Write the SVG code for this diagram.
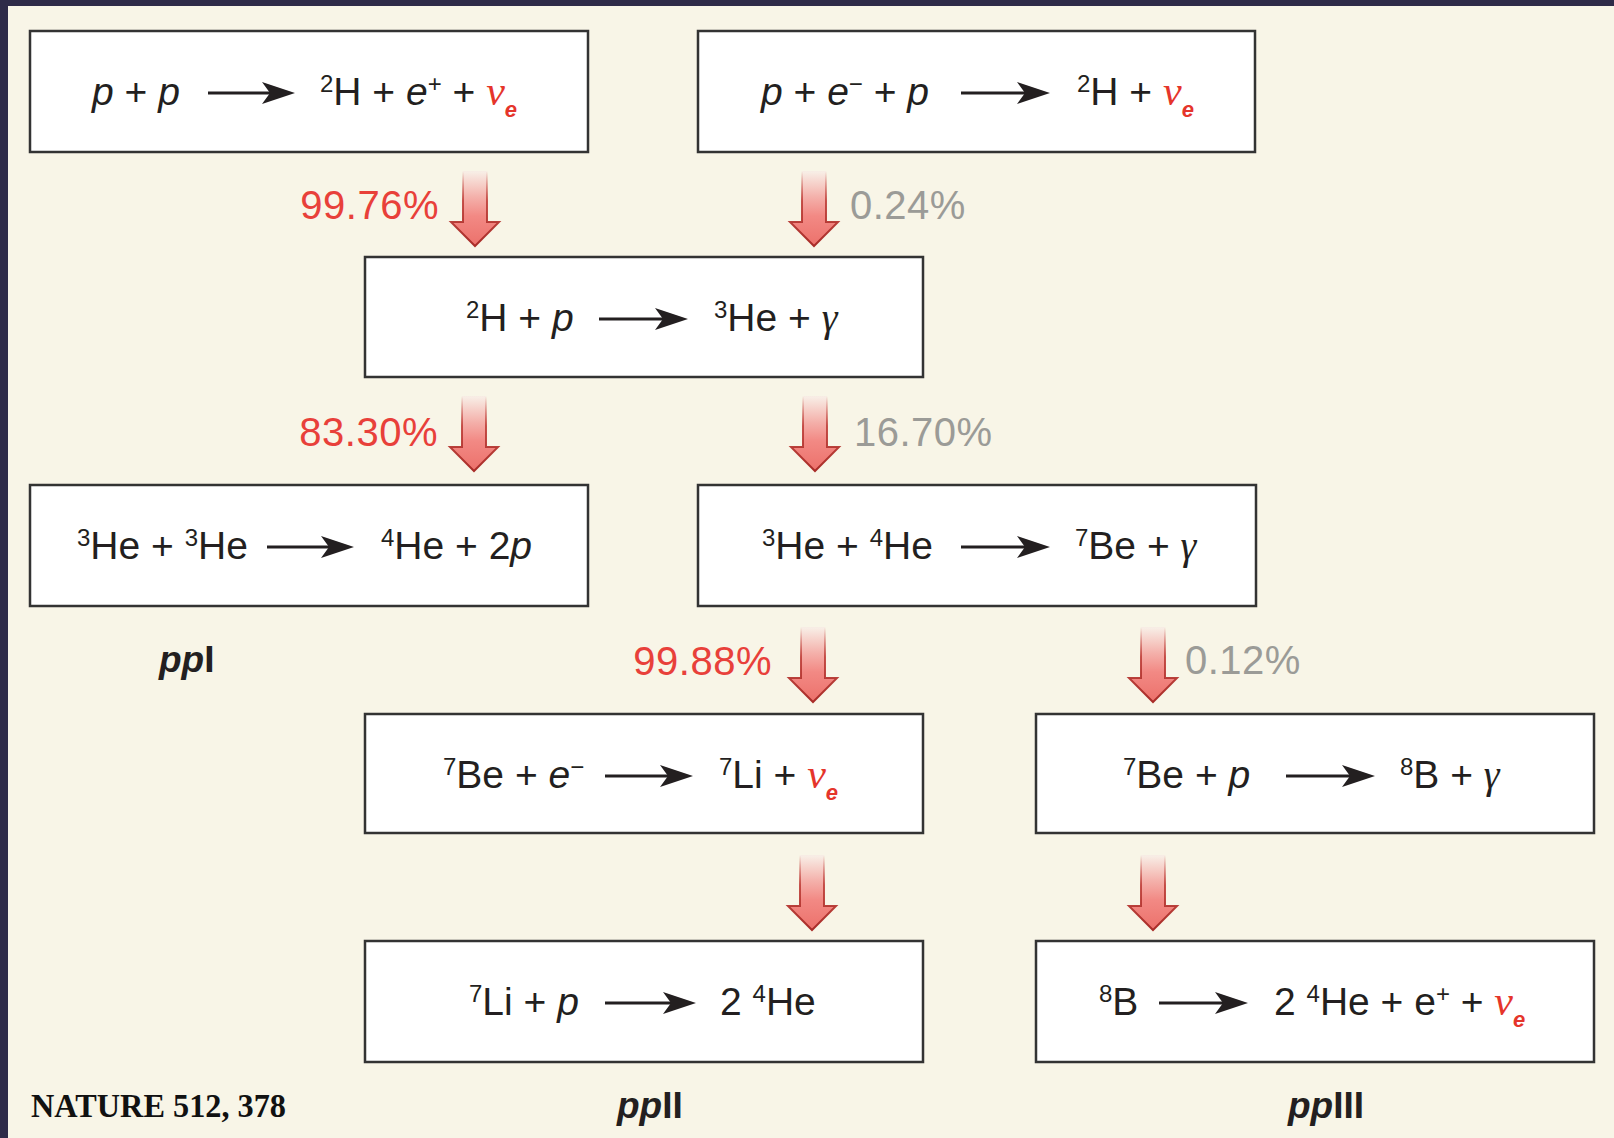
<svg xmlns="http://www.w3.org/2000/svg" width="1614" height="1138" viewBox="0 0 1614 1138">
<defs>
<style>
.bg{fill:#f8f5e7}
.frame{fill:#2e2b48}
.box{fill:#ffffff;stroke:#333333;stroke-width:2.5}
.eq{font-family:"Liberation Sans",Arial,sans-serif;font-size:39px;fill:#231f20;white-space:pre}
.it{font-style:italic}
.sup{font-size:24px}
.nu{font-family:"Liberation Serif","Times New Roman",serif;font-style:italic;font-size:42px;fill:#e5352b}
.gam{font-family:"Liberation Serif","Times New Roman",serif;font-style:italic;font-size:40px}
.sub{font-size:22px;font-weight:bold;font-style:italic;fill:#e5352b}
.rx{stroke:#231f20;stroke-width:2.8;fill:none}
.pct{font-family:"Liberation Sans",Arial,sans-serif;font-size:40px;letter-spacing:0.5px}
.red{fill:#e8403a}
.gray{fill:#9b9b97}
.lbl{font-family:"Liberation Sans",Arial,sans-serif;font-size:37px;font-weight:bold;fill:#231f20}
.src{font-family:"Liberation Serif","Times New Roman",serif;font-size:34px;font-weight:bold;fill:#111111}
</style>
<marker id="ah" markerUnits="userSpaceOnUse" markerWidth="34" markerHeight="24" viewBox="0 0 34 24" refX="20" refY="12" orient="auto">
<path d="M0,1 L33,12 L0,23 L8,12 Z" fill="#231f20"/>
</marker>
<linearGradient id="shaftFill" x1="0" y1="0" x2="0" y2="1">
<stop offset="0" stop-color="#f8f0e8"/>
<stop offset="0.35" stop-color="#f4b0aa"/>
<stop offset="0.6" stop-color="#f28984"/>
<stop offset="1" stop-color="#ec716b"/>
</linearGradient>
<linearGradient id="shaftStroke" x1="0" y1="0" x2="0" y2="1">
<stop offset="0" stop-color="#c0403a" stop-opacity="0"/>
<stop offset="0.4" stop-color="#c0403a" stop-opacity="0.9"/>
<stop offset="1" stop-color="#a82c28"/>
</linearGradient>
<path id="bigArrow" d="M-12,0 L12,0 L12,51 L24,51 L0,75 L-24,51 L-12,51 Z" fill="url(#shaftFill)" stroke="url(#shaftStroke)" stroke-width="2" stroke-linejoin="miter"/>
</defs>

<rect class="bg" x="0" y="0" width="1614" height="1138"/>
<rect class="frame" x="0" y="0" width="1614" height="6"/>
<rect class="frame" x="0" y="0" width="8" height="1138"/>

<g id="connectors">
<use href="#bigArrow" transform="translate(475,171)"/>
<use href="#bigArrow" transform="translate(814,171)"/>
<use href="#bigArrow" transform="translate(474,396)"/>
<use href="#bigArrow" transform="translate(815,396)"/>
<use href="#bigArrow" transform="translate(813,627)"/>
<use href="#bigArrow" transform="translate(1153,627)"/>
<use href="#bigArrow" transform="translate(812,855)"/>
<use href="#bigArrow" transform="translate(1153,855)"/>
</g>

<g id="branch-labels">
<text class="pct red" x="439" y="219" text-anchor="end">99.76%</text>
<text class="pct gray" x="850" y="219">0.24%</text>
<text class="pct red" x="438" y="446" text-anchor="end">83.30%</text>
<text class="pct gray" x="854" y="446">16.70%</text>
<text class="pct red" x="772" y="675" text-anchor="end">99.88%</text>
<text class="pct gray" x="1185" y="674">0.12%</text>
</g>

<g id="node-pp">
<rect class="box" x="30" y="31" width="558" height="121"/>
<text class="eq" x="92" y="105"><tspan class="it">p</tspan> + <tspan class="it">p</tspan></text>
<line class="rx" x1="208" y1="93" x2="282" y2="93" marker-end="url(#ah)"/>
<text class="eq" x="320" y="105"><tspan class="sup" dy="-13">2</tspan><tspan dy="13">H + </tspan><tspan class="it">e</tspan><tspan class="sup" dy="-13">+</tspan><tspan dy="13"> + </tspan><tspan class="nu">ν</tspan><tspan class="sub" dy="12">e</tspan></text>
</g>

<g id="node-pep">
<rect class="box" x="698" y="31" width="557" height="121"/>
<text class="eq" x="761" y="105"><tspan class="it">p</tspan> + <tspan class="it">e</tspan><tspan class="sup" dy="-13">−</tspan><tspan dy="13"> + </tspan><tspan class="it">p</tspan></text>
<line class="rx" x1="961" y1="93" x2="1037" y2="93" marker-end="url(#ah)"/>
<text class="eq" x="1077" y="105"><tspan class="sup" dy="-13">2</tspan><tspan dy="13">H + </tspan><tspan class="nu">ν</tspan><tspan class="sub" dy="12">e</tspan></text>
</g>

<g id="node-hp">
<rect class="box" x="365" y="257" width="558" height="120"/>
<text class="eq" x="466" y="331"><tspan class="sup" dy="-13">2</tspan><tspan dy="13">H + </tspan><tspan class="it">p</tspan></text>
<line class="rx" x1="599" y1="319" x2="675" y2="319" marker-end="url(#ah)"/>
<text class="eq" x="714" y="331"><tspan class="sup" dy="-13">3</tspan><tspan dy="13">He + </tspan><tspan class="gam">γ</tspan></text>
</g>

<g id="node-he3he3">
<rect class="box" x="30" y="485" width="558" height="121"/>
<text class="eq" x="77" y="559"><tspan class="sup" dy="-13">3</tspan><tspan dy="13">He + </tspan><tspan class="sup" dy="-13">3</tspan><tspan dy="13">He</tspan></text>
<line class="rx" x1="267" y1="547" x2="341" y2="547" marker-end="url(#ah)"/>
<text class="eq" x="381" y="559"><tspan class="sup" dy="-13">4</tspan><tspan dy="13">He + 2</tspan><tspan class="it">p</tspan></text>
</g>

<g id="node-he3he4">
<rect class="box" x="698" y="485" width="558" height="121"/>
<text class="eq" x="762" y="559"><tspan class="sup" dy="-13">3</tspan><tspan dy="13">He + </tspan><tspan class="sup" dy="-13">4</tspan><tspan dy="13">He</tspan></text>
<line class="rx" x1="961" y1="547" x2="1037" y2="547" marker-end="url(#ah)"/>
<text class="eq" x="1075" y="559"><tspan class="sup" dy="-13">7</tspan><tspan dy="13">Be + </tspan><tspan class="gam">γ</tspan></text>
</g>

<g id="node-be7e">
<rect class="box" x="365" y="714" width="558" height="119"/>
<text class="eq" x="443" y="788"><tspan class="sup" dy="-13">7</tspan><tspan dy="13">Be + </tspan><tspan class="it">e</tspan><tspan class="sup" dy="-13">−</tspan></text>
<line class="rx" x1="605" y1="776" x2="680" y2="776" marker-end="url(#ah)"/>
<text class="eq" x="719" y="788"><tspan class="sup" dy="-13">7</tspan><tspan dy="13">Li + </tspan><tspan class="nu">ν</tspan><tspan class="sub" dy="12">e</tspan></text>
</g>

<g id="node-be7p">
<rect class="box" x="1036" y="714" width="558" height="119"/>
<text class="eq" x="1123" y="788"><tspan class="sup" dy="-13">7</tspan><tspan dy="13">Be + </tspan><tspan class="it">p</tspan></text>
<line class="rx" x1="1286" y1="776" x2="1362" y2="776" marker-end="url(#ah)"/>
<text class="eq" x="1400" y="788"><tspan class="sup" dy="-13">8</tspan><tspan dy="13">B + </tspan><tspan class="gam">γ</tspan></text>
</g>

<g id="node-li7p">
<rect class="box" x="365" y="941" width="558" height="121"/>
<text class="eq" x="469" y="1015"><tspan class="sup" dy="-13">7</tspan><tspan dy="13">Li + </tspan><tspan class="it">p</tspan></text>
<line class="rx" x1="605" y1="1003" x2="683" y2="1003" marker-end="url(#ah)"/>
<text class="eq" x="720" y="1015">2 <tspan class="sup" dy="-13">4</tspan><tspan dy="13">He</tspan></text>
</g>

<g id="node-b8">
<rect class="box" x="1036" y="941" width="558" height="121"/>
<text class="eq" x="1099" y="1015"><tspan class="sup" dy="-13">8</tspan><tspan dy="13">B</tspan></text>
<line class="rx" x1="1159" y1="1003" x2="1235" y2="1003" marker-end="url(#ah)"/>
<text class="eq" x="1274" y="1015">2 <tspan class="sup" dy="-13">4</tspan><tspan dy="13">He + e</tspan><tspan class="sup" dy="-13">+</tspan><tspan dy="13"> + </tspan><tspan class="nu">ν</tspan><tspan class="sub" dy="12">e</tspan></text>
</g>

<g id="chain-labels">
<text class="lbl" x="159" y="672"><tspan font-style="italic">pp</tspan>I</text>
<text class="lbl" x="617" y="1118"><tspan font-style="italic">pp</tspan>II</text>
<text class="lbl" x="1288" y="1118"><tspan font-style="italic">pp</tspan>III</text>
<text class="src" x="31" y="1117" textLength="255" lengthAdjust="spacingAndGlyphs">NATURE 512, 378</text>
</g>
</svg>
